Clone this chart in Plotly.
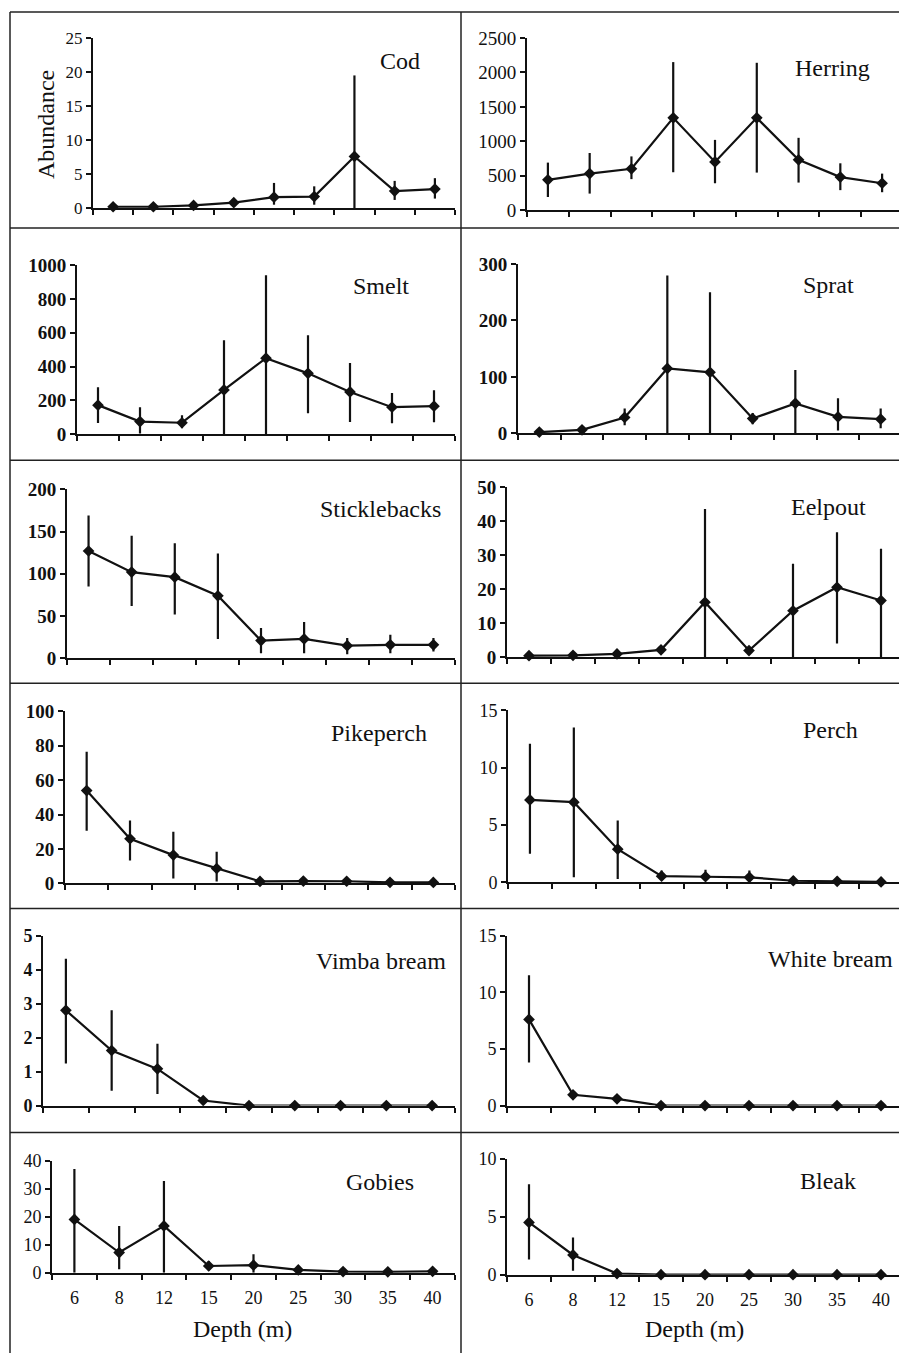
import plotly.graph_objects as go

# ---------------- data ----------------
depth = ["6", "8", "12", "15", "20", "25", "30", "35", "40"]

cod_mean = [0.2, 0.2, 0.4, 0.8, 1.6, 1.7, 7.6, 2.5, 2.8]
cod_err_up = [0.5, 0.4, 0.5, 0.6, 2.1, 1.5, 11.9, 1.5, 1.6]
cod_err_down = [0.2, 0.2, 0.4, 0.5, 1.1, 1.2, 7.6, 1.3, 1.4]

herring_mean = [440, 530, 600, 1340, 700, 1340, 730, 480, 390]
herring_err_up = [250, 300, 180, 810, 320, 800, 320, 200, 140]
herring_err_down = [250, 290, 150, 790, 310, 795, 330, 190, 130]

smelt_mean = [172, 75, 68, 262, 450, 360, 250, 160, 166]
smelt_err_up = [106, 85, 44, 294, 490, 226, 172, 84, 94]
smelt_err_down = [106, 70, 33, 262, 450, 236, 178, 95, 95]

sprat_mean = [2, 6, 28, 115, 108, 26, 53, 29, 25]
sprat_err_up = [3, 5, 16, 165, 142, 10, 59, 33, 19]
sprat_err_down = [2, 5, 14, 115, 108, 10, 53, 24, 16]

stickle_mean = [127, 102, 96, 74, 21, 23, 15, 16, 16]
stickle_err_up = [42, 43, 40, 50, 15, 20, 9, 12, 8]
stickle_err_down = [42, 40, 44, 51, 15, 17, 10, 10, 8]

eelpout_mean = [0.5, 0.6, 1.0, 2.2, 16.2, 2.0, 13.7, 20.6, 16.7]
eelpout_err_up = [1.0, 1.2, 1.3, 1.2, 27.4, 1.2, 13.8, 16.2, 15.2]
eelpout_err_down = [0.5, 0.6, 1.0, 1.0, 16.2, 1.2, 13.7, 16.5, 16.7]

pike_mean = [54, 26, 16.5, 8.7, 1.2, 1.4, 1.3, 0.7, 0.6]
pike_err_up = [22.6, 10.6, 13.5, 9.7, 1.5, 2.5, 2.5, 2.5, 2.0]
pike_err_down = [23.3, 12.6, 13.6, 7.5, 1.2, 1.4, 1.3, 0.7, 0.6]

perch_mean = [7.2, 7.0, 2.9, 0.55, 0.5, 0.45, 0.15, 0.1, 0.05]
perch_err_up = [4.9, 6.5, 2.5, 0.5, 0.6, 0.6, 0.4, 0.4, 0.4]
perch_err_down = [4.7, 6.55, 2.6, 0.3, 0.3, 0.3, 0.15, 0.1, 0.05]

vimba_mean = [2.8, 1.62, 1.08, 0.15, 0, 0, 0, 0, 0]
vimba_err_up = [1.52, 1.18, 0.74, 0.12, 0, 0, 0, 0, 0]
vimba_err_down = [1.56, 1.18, 0.74, 0.1, 0, 0, 0, 0, 0]

white_mean = [7.6, 0.95, 0.6, 0, 0, 0, 0, 0, 0]
white_err_up = [3.9, 0.3, 0.3, 0, 0, 0, 0, 0, 0]
white_err_down = [3.8, 0.3, 0.3, 0, 0, 0, 0, 0, 0]

gobies_mean = [19, 7.2, 16.7, 2.4, 2.7, 1.0, 0.4, 0.3, 0.5]
gobies_err_up = [18, 9.5, 16, 1.8, 3.9, 1.5, 1.2, 1.2, 1.2]
gobies_err_down = [19, 6, 16.7, 1.5, 2.7, 1.0, 0.4, 0.3, 0.5]

bleak_mean = [4.5, 1.7, 0.1, 0, 0, 0, 0, 0, 0]
bleak_err_up = [3.3, 1.5, 0.2, 0, 0, 0, 0, 0, 0]
bleak_err_down = [3.2, 1.35, 0.1, 0, 0, 0, 0, 0, 0]

species = ["Cod", "Herring", "Smelt", "Sprat", "Sticklebacks", "Eelpout",
           "Pikeperch", "Perch", "Vimba bream", "White bream", "Gobies", "Bleak"]
y_max = [25, 2500, 1000, 300, 200, 50, 100, 15, 5, 15, 40, 10]
y_step = [5, 500, 200, 100, 50, 10, 20, 5, 1, 5, 10, 5]

means = [cod_mean, herring_mean, smelt_mean, sprat_mean, stickle_mean, eelpout_mean,
         pike_mean, perch_mean, vimba_mean, white_mean, gobies_mean, bleak_mean]
ups = [cod_err_up, herring_err_up, smelt_err_up, sprat_err_up, stickle_err_up, eelpout_err_up,
       pike_err_up, perch_err_up, vimba_err_up, white_err_up, gobies_err_up, bleak_err_up]
downs = [cod_err_down, herring_err_down, smelt_err_down, sprat_err_down, stickle_err_down,
         eelpout_err_down, pike_err_down, perch_err_down, vimba_err_down, white_err_down,
         gobies_err_down, bleak_err_down]

# ---------------- layout geometry (target pixels in the 907x1353 picture) ----------------
# observed placement of the figure in the photographed page
OX, OY, SY = 8, 18, 0.984
W = 907 - OX
H = int(round((1353 - OY) / SY)) + 2
REF_W, REF_H = 907, 1353


def fx(px):
    return (px - OX) / W


def fy(py):
    return 1 - ((py - OY) / SY) / H


# (x0, x1, y_top, y_bottom) of each plot area
boxes = [(93, 455, 38, 208), (527, 903, 38, 210),
         (77, 455, 265, 434), (518, 902, 264, 433),
         (67, 455, 489, 658), (507, 903, 487, 657),
         (65, 455, 711, 883), (508, 903, 710, 882),
         (43, 455, 935, 1105), (507, 903, 935, 1105),
         (52, 455, 1160, 1272), (507, 903, 1158, 1274)]
label_pos = [(400, 61), (832, 68), (381, 286), (828, 285), (380, 509), (828, 507),
             (379, 733), (830, 730), (381, 960), (830, 958), (380, 1181), (828, 1180)]
tick_size = [17, 19, 19, 19, 19, 19, 19, 18, 18, 18, 18, 18]
tick_bold = [False, False, True, True, True, True, True, False, True, False, False, False]

SERIF = "Liberation Serif, Times New Roman, serif"
INK = "#111111"

fig = go.Figure()
layout = dict(width=W, height=H, margin=dict(l=0, r=0, t=0, b=0),
              paper_bgcolor="white", plot_bgcolor="white", showlegend=False,
              font=dict(family=SERIF, color=INK))
annotations = []
shapes = []

for i in range(12):
    n = i + 1
    xs = "x" if n == 1 else f"x{n}"
    ys = "y" if n == 1 else f"y{n}"
    fig.add_trace(go.Scatter(
        x=depth, y=means[i], xaxis=xs, yaxis=ys, mode="lines+markers",
        line=dict(color=INK, width=2.2),
        marker=dict(symbol="diamond", size=9, color=INK),
        error_y=dict(type="data", symmetric=False, array=ups[i], arrayminus=downs[i],
                     width=0, thickness=2.2, color=INK),
        cliponaxis=False, hoverinfo="x+y"))
    x0, x1, yt, yb = boxes[i]
    bottom = i >= 10
    xa = dict(domain=[fx(x0), min(fx(x1), 1.0)], anchor=ys, type="category",
              range=[-0.5, 8.5], showline=True, linecolor=INK, linewidth=2,
              ticks="outside", tickson="boundaries", ticklen=5, tickwidth=1.5,
              tickcolor=INK, showticklabels=bottom, showgrid=False, zeroline=False,
              tickfont=dict(family=SERIF, size=18, color=INK), ticklabelstandoff=8)
    tv = list(range(0, y_max[i] + 1, y_step[i]))
    ya = dict(domain=[fy(yb), fy(yt)], anchor=xs, range=[0, y_max[i]],
              tickmode="array", tickvals=tv, ticks="outside", ticklen=5, tickwidth=1.5,
              tickcolor=INK, showline=True, linecolor=INK, linewidth=2,
              showgrid=False, zeroline=False,
              tickfont=dict(family=SERIF, size=tick_size[i], color=INK,
                            weight="bold" if tick_bold[i] else "normal"))
    layout["xaxis" if n == 1 else f"xaxis{n}"] = xa
    layout["yaxis" if n == 1 else f"yaxis{n}"] = ya
    lx, ly = label_pos[i]
    annotations.append(dict(text=species[i], xref="paper", yref="paper",
                            x=fx(lx), y=fy(ly), xanchor="center", yanchor="middle",
                            showarrow=False, font=dict(family=SERIF, size=24, color=INK)))

annotations.append(dict(text="Abundance", xref="paper", yref="paper", x=fx(46), y=fy(125),
                        textangle=-90, xanchor="center", yanchor="middle", showarrow=False,
                        font=dict(family=SERIF, size=24, color=INK)))
for cx in (243, 694):
    annotations.append(dict(text="Depth (m)", xref="paper", yref="paper", x=fx(cx), y=fy(1328),
                            xanchor="center", yanchor="middle", showarrow=False,
                            font=dict(family=SERIF, size=24, color=INK)))


def line(xa0, ya0, xa1, ya1):
    shapes.append(dict(type="line", xref="paper", yref="paper",
                       x0=fx(xa0), y0=fy(ya0), x1=fx(xa1), y1=fy(ya1),
                       line=dict(color="#222222", width=1.5)))


line(10, 12, 10, REF_H)
line(461, 12, 461, REF_H)
for yy in (12, 228, 460, 683, 908, 1132):
    line(10, yy, REF_W, yy)

layout["annotations"] = annotations
layout["shapes"] = shapes
fig.update_layout(**layout)
fig.write_html("out.html")
